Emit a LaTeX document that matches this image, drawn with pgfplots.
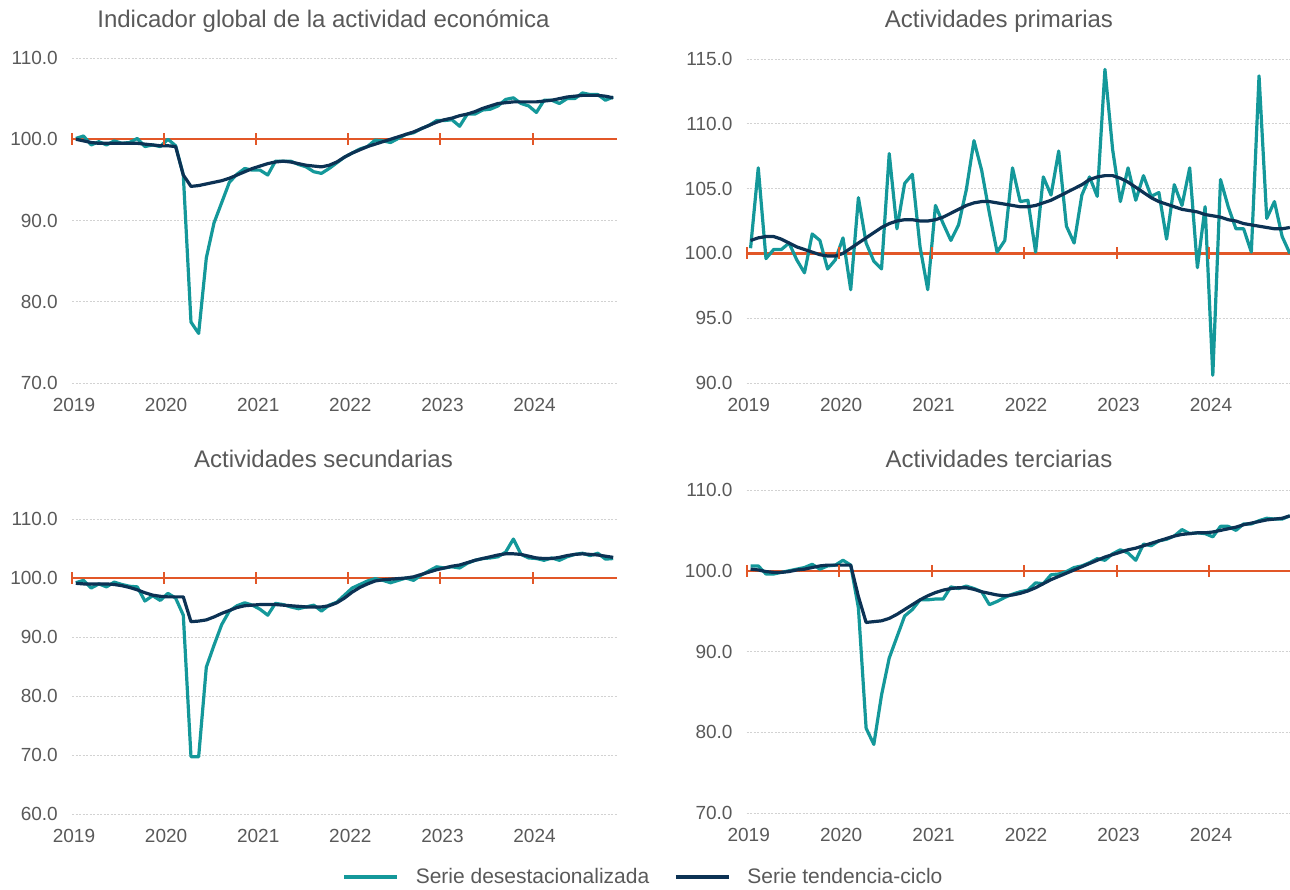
\documentclass[border=0pt]{standalone}
\usepackage{fontspec}
\setmainfont{Liberation Sans}
\usepackage{pgfplots}
\usepackage{pgfplotstable}
\pgfplotsset{compat=1.18}
\definecolor{teal1}{RGB}{20,152,154}
\definecolor{navy1}{RGB}{12,50,84}
\definecolor{orange1}{RGB}{226,87,40}
\definecolor{txtgray}{RGB}{89,89,89}
\definecolor{gridgray}{RGB}{210,210,210}

\pgfplotstableread{
i sa tc
0 100.1 100.0
1 100.4 99.8
2 99.3 99.6
3 99.7 99.5
4 99.3 99.5
5 99.8 99.5
6 99.5 99.5
7 99.6 99.5
8 100.1 99.5
9 99.1 99.4
10 99.3 99.3
11 99.1 99.2
12 100.0 99.2
13 99.2 99.1
14 95.6 95.6
15 77.5 94.2
16 76.1 94.3
17 85.4 94.5
18 89.7 94.7
19 92.2 94.9
20 94.7 95.2
21 95.7 95.6
22 96.4 96.0
23 96.2 96.4
24 96.2 96.7
25 95.6 97.0
26 97.3 97.2
27 97.3 97.3
28 97.3 97.2
29 96.9 97.0
30 96.6 96.8
31 96.0 96.7
32 95.8 96.6
33 96.4 96.8
34 97.1 97.2
35 97.8 97.8
36 98.3 98.3
37 98.8 98.7
38 99.1 99.1
39 99.9 99.4
40 99.8 99.7
41 99.6 100.0
42 100.1 100.3
43 100.6 100.6
44 100.8 100.9
45 101.3 101.3
46 101.7 101.7
47 102.3 102.1
48 102.3 102.4
49 102.4 102.6
50 101.6 102.9
51 103.1 103.1
52 103.1 103.4
53 103.6 103.8
54 103.7 104.1
55 104.1 104.4
56 104.9 104.5
57 105.1 104.6
58 104.4 104.6
59 104.1 104.6
60 103.3 104.6
61 104.8 104.7
62 104.8 104.8
63 104.4 105.0
64 105.0 105.2
65 105.0 105.3
66 105.7 105.4
67 105.5 105.4
68 105.5 105.4
69 104.8 105.3
70 105.2 105.1
}\dataA

\pgfplotstableread{
i sa tc
0 100.4 101.0
1 106.6 101.2
2 99.6 101.3
3 100.3 101.3
4 100.3 101.1
5 100.8 100.8
6 99.5 100.5
7 98.5 100.3
8 101.5 100.1
9 101.0 99.9
10 98.8 99.8
11 99.5 99.8
12 101.2 100.0
13 97.2 100.4
14 104.3 100.8
15 100.8 101.2
16 99.4 101.6
17 98.8 102.0
18 107.7 102.3
19 101.9 102.5
20 105.4 102.6
21 106.1 102.6
22 100.5 102.5
23 97.2 102.5
24 103.7 102.6
25 102.3 102.8
26 101.0 103.1
27 102.2 103.4
28 104.9 103.7
29 108.7 103.9
30 106.4 104.0
31 103.1 104.0
32 100.1 103.9
33 101.0 103.8
34 106.6 103.7
35 104.0 103.6
36 104.1 103.6
37 100.1 103.7
38 105.9 103.9
39 104.5 104.1
40 107.9 104.4
41 102.1 104.7
42 100.8 105.0
43 104.5 105.3
44 105.9 105.7
45 104.4 105.9
46 114.2 106.0
47 108.0 106.0
48 104.0 105.8
49 106.6 105.5
50 104.1 105.1
51 106.0 104.7
52 104.4 104.3
53 104.7 104.0
54 101.1 103.8
55 105.3 103.6
56 103.7 103.4
57 106.6 103.3
58 98.9 103.2
59 103.6 103.0
60 90.6 102.9
61 105.7 102.8
62 103.6 102.6
63 101.9 102.5
64 101.9 102.3
65 100.1 102.2
66 113.7 102.1
67 102.7 102.0
68 104.0 101.9
69 101.3 101.9
70 100.0 102.0
}\dataB

\pgfplotstableread{
i sa tc
0 99.2 99.1
1 99.6 99.0
2 98.3 99.0
3 99.0 99.0
4 98.5 99.0
5 99.3 98.9
6 98.9 98.7
7 98.6 98.4
8 98.5 98.0
9 96.1 97.5
10 97.0 97.1
11 96.2 96.9
12 97.4 96.8
13 96.6 96.8
14 93.7 96.8
15 69.7 92.6
16 69.7 92.7
17 84.9 92.9
18 88.6 93.4
19 92.1 94.0
20 94.4 94.5
21 95.3 95.0
22 95.8 95.3
23 95.4 95.4
24 94.7 95.5
25 93.7 95.5
26 95.7 95.5
27 95.5 95.4
28 95.1 95.3
29 94.8 95.2
30 95.1 95.1
31 95.4 95.1
32 94.4 95.1
33 95.4 95.3
34 95.9 95.8
35 97.1 96.6
36 98.3 97.6
37 98.9 98.4
38 99.5 99.0
39 99.9 99.5
40 99.6 99.7
41 99.2 99.8
42 99.6 99.9
43 100.0 100.0
44 99.6 100.2
45 100.5 100.6
46 101.2 101.0
47 101.9 101.4
48 101.7 101.7
49 101.9 102.0
50 101.7 102.2
51 102.5 102.6
52 103.0 103.0
53 103.3 103.3
54 103.4 103.6
55 103.6 103.9
56 104.4 104.1
57 106.6 104.1
58 104.0 104.0
59 103.4 103.7
60 103.3 103.4
61 103.0 103.3
62 103.4 103.3
63 103.0 103.5
64 103.6 103.8
65 104.0 104.0
66 104.2 104.1
67 103.8 104.0
68 104.2 103.9
69 103.2 103.7
70 103.3 103.5
}\dataC

\pgfplotstableread{
i sa tc
0 100.6 100.2
1 100.6 100.1
2 99.6 99.9
3 99.6 99.8
4 99.8 99.8
5 100.0 99.9
6 100.2 100.1
7 100.4 100.2
8 100.8 100.4
9 100.2 100.6
10 100.6 100.7
11 100.7 100.7
12 101.3 100.7
13 100.7 100.7
14 95.4 96.8
15 80.5 93.6
16 78.5 93.7
17 84.6 93.8
18 89.2 94.1
19 91.8 94.6
20 94.4 95.2
21 95.2 95.8
22 96.4 96.4
23 96.4 96.9
24 96.5 97.3
25 96.5 97.6
26 98.0 97.8
27 97.8 97.9
28 98.1 97.9
29 97.8 97.7
30 97.4 97.4
31 95.8 97.2
32 96.2 97.0
33 96.7 96.9
34 97.1 97.0
35 97.4 97.2
36 97.6 97.5
37 98.5 97.9
38 98.4 98.4
39 99.5 98.9
40 99.6 99.3
41 99.9 99.7
42 100.4 100.1
43 100.6 100.5
44 101.0 100.9
45 101.5 101.3
46 101.3 101.7
47 102.1 102.0
48 102.6 102.3
49 102.2 102.6
50 101.3 102.8
51 103.3 103.1
52 103.1 103.4
53 103.7 103.7
54 103.9 104.0
55 104.3 104.3
56 105.1 104.5
57 104.6 104.6
58 104.7 104.7
59 104.6 104.7
60 104.2 104.8
61 105.5 105.0
62 105.5 105.2
63 105.0 105.4
64 105.8 105.7
65 105.8 105.9
66 106.2 106.1
67 106.5 106.3
68 106.4 106.4
69 106.4 106.5
70 106.8 106.8
}\dataD

\pgfplotsset{
  panel/.style={
    scale only axis,
    xmin=-0.5, xmax=70.5,
    axis line style={draw=none},
    major tick length=0pt,
    tick style={draw=none},
    xtick={-0.5,11.5,23.5,35.5,47.5,59.5},
    xticklabels={2019,2020,2021,2022,2023,2024},
    xticklabel style={anchor=north, inner sep=0pt, xshift=2pt, yshift=-15pt, font=\fontsize{19}{22}\selectfont, text=txtgray},
    yticklabel style={anchor=east, inner sep=0pt, xshift=-14pt, font=\fontsize{19}{22}\selectfont, text=txtgray},
    ymajorgrids,
    major grid style={gridgray, line width=1pt, dash pattern=on 2pt off 1.5pt},
    clip=false,
  },
  sa/.style={teal1, line width=3.2pt, line join=round},
  tc/.style={navy1, line width=3.2pt, line join=round},
  baseline100/.style={orange1, line width=2.2pt, forget plot},
  ticks100/.style={orange1, only marks, mark=|, mark size=6pt, mark options={line width=2pt}, forget plot},
}

\newcommand{\refline}{%
  \addplot[baseline100] coordinates {(-0.5,100) (70.5,100)};
  \addplot[ticks100] coordinates {(-0.5,100) (11.5,100) (23.5,100) (35.5,100) (47.5,100) (59.5,100)};
}

\begin{document}
\begin{tikzpicture}
\useasboundingbox (0pt,0pt) rectangle (1290pt,-889pt);

% Panel 1
\begin{axis}[panel, at={(72pt,-383pt)}, anchor=south west, width=545pt, height=325pt,
  ymin=70, ymax=110, ytick={70,80,90,100,110}, yticklabels={70.0,80.0,90.0,100.0,110.0}]
\refline
\addplot[sa] table[x=i,y=sa] {\dataA};
\addplot[tc] table[x=i,y=tc] {\dataA};
\end{axis}

% Panel 2
\begin{axis}[panel, at={(746.7pt,-383pt)}, anchor=south west, width=547pt, height=324pt,
  ymin=90, ymax=115, ytick={90,95,100,105,110,115}, yticklabels={90.0,95.0,100.0,105.0,110.0,115.0}]
\refline
\addplot[sa] table[x=i,y=sa] {\dataB};
\addplot[tc] table[x=i,y=tc] {\dataB};
\end{axis}

% Panel 3
\begin{axis}[panel, at={(72pt,-814pt)}, anchor=south west, width=545pt, height=295pt,
  ymin=60, ymax=110, ytick={60,70,80,90,100,110}, yticklabels={60.0,70.0,80.0,90.0,100.0,110.0}]
\refline
\addplot[sa] table[x=i,y=sa] {\dataC};
\addplot[tc] table[x=i,y=tc] {\dataC};
\end{axis}

% Panel 4
\begin{axis}[panel, at={(746.7pt,-813pt)}, anchor=south west, width=547pt, height=323pt,
  ymin=70, ymax=110, ytick={70,80,90,100,110}, yticklabels={70.0,80.0,90.0,100.0,110.0},
  legend columns=2,
  legend image code/.code={\draw[#1] (0pt,0pt) -- (53pt,0pt);},
  legend style={at={(axis description cs:-0.1905,-0.198)}, anchor=center, draw=none, fill=none,
    font=\fontsize{21}{24}\selectfont, text=txtgray, inner sep=0pt,
    nodes={inner sep=0pt},
    /tikz/every odd column/.append style={column sep=17pt},
    /tikz/every even column/.append style={column sep=25pt}},
  legend cell align=left]
\refline
\addplot[sa] table[x=i,y=sa] {\dataD};
\addlegendentry{Serie desestacionalizada}
\addplot[tc] table[x=i,y=tc] {\dataD};
\addlegendentry{Serie tendencia-ciclo}
\end{axis}

% Titles
\node[anchor=base, font=\fontsize{24}{28}\selectfont, text=txtgray] at (323.5pt,-27pt) {Indicador global de la actividad económica};
\node[anchor=base, font=\fontsize{24}{28}\selectfont, text=txtgray] at (999pt,-27pt) {Actividades primarias};
\node[anchor=base, font=\fontsize{24}{28}\selectfont, text=txtgray] at (323.5pt,-467pt) {Actividades secundarias};
\node[anchor=base, font=\fontsize{24}{28}\selectfont, text=txtgray] at (999pt,-467pt) {Actividades terciarias};
\end{tikzpicture}
\end{document}
